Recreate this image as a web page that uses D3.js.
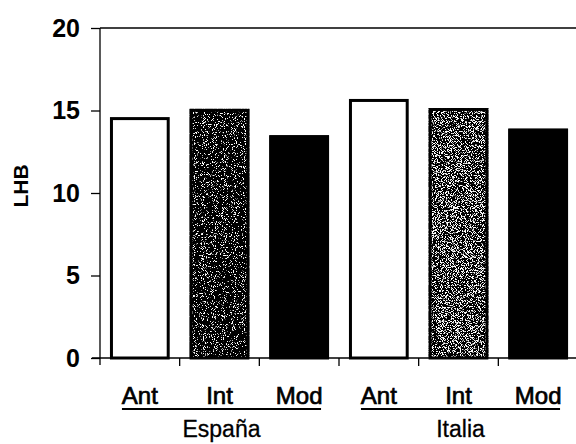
<!DOCTYPE html>
<html>
<head>
<meta charset="utf-8">
<script src="https://cdn.jsdelivr.net/npm/d3@7/dist/d3.min.js"></script>
<style>
  html, body { margin: 0; padding: 0; background: #fff; }
  svg { display: block; }
</style>
</head>
<body>
<script>
// LHB by period style, grouped by country
const countries = ["España", "Italia"];
const periods = ["Ant", "Int", "Mod"];
const espanaValues = [14.6, 15.1, 13.5];
const italiaValues = [15.7, 15.15, 13.9];
const yTicks = [0, 5, 10, 15, 20];
const yLabel = "LHB";

const rows = [];
countries.forEach((c, ci) => {
  const vals = ci === 0 ? espanaValues : italiaValues;
  periods.forEach((p, pi) => rows.push({ key: c + "-" + p, country: c, period: p, value: vals[pi], ci, pi }));
});

const W = 576, H = 444;
const svg = d3.select("body").append("svg").attr("width", W).attr("height", H);

// grain textures: white specks over black, density per fill style
const defs = svg.append("defs");
function grain(id, threshold, seed, freq) {
  const f = defs.append("filter").attr("id", id)
    .attr("x", 0).attr("y", 0).attr("width", "100%").attr("height", "100%");
  f.append("feTurbulence").attr("type", "fractalNoise").attr("baseFrequency", freq)
    .attr("numOctaves", 2).attr("seed", seed).attr("result", "n");
  const k = 14;
  f.append("feColorMatrix").attr("in", "n").attr("type", "matrix")
    .attr("values", `0 0 0 0 1  0 0 0 0 1  0 0 0 0 1  ${k} 0 0 0 ${-k * threshold}`)
    .attr("result", "spots");
  f.append("feComposite").attr("in", "spots").attr("in2", "SourceGraphic").attr("operator", "atop");
}
grain("grainEsInt", 0.6, 4, 1.1);
grain("grainItInt", 0.53, 7, 1.2);
grain("grainMod", 0.74, 2, 1.0);

const x = d3.scaleBand().domain(rows.map(d => d.key)).range([100, 578])
  .paddingInner(0.25).paddingOuter(0.125);
const y = d3.scaleLinear().domain([0, 20]).range([358, 28]);

const fillFor = d => {
  if (d.pi === 0) return { fill: "#fff", filter: null };
  if (d.pi === 1) return { fill: "#000", filter: d.ci === 0 ? "url(#grainEsInt)" : "url(#grainItInt)" };
  return { fill: "#000", filter: "url(#grainMod)" };
};

// bars
const bars = svg.append("g");
rows.forEach(d => {
  const s = fillFor(d);
  const r = bars.append("rect")
    .attr("x", x(d.key)).attr("y", y(d.value))
    .attr("width", x.bandwidth()).attr("height", y(0) - y(d.value))
    .attr("fill", s.fill);
  if (s.filter) r.attr("filter", s.filter);
  bars.append("rect")
    .attr("x", x(d.key) + 1.5).attr("y", y(d.value) + 1.5)
    .attr("width", x.bandwidth() - 3).attr("height", y(0) - y(d.value) - 1.5)
    .attr("fill", "none").attr("stroke", "#000").attr("stroke-width", 3);
});

// frame top line
svg.append("line").attr("x1", 100).attr("x2", 578).attr("y1", y(20)).attr("y2", y(20))
  .attr("stroke", "#000").attr("stroke-width", 1.5);

// y axis
const yAxis = svg.append("g").attr("transform", "translate(100,0)")
  .call(d3.axisLeft(y).tickValues(yTicks).tickSize(9).tickPadding(11).tickFormat(d3.format("d")));
yAxis.select(".domain").attr("d", `M0,${y(20)}V${y(0) + 7}`).attr("stroke-width", 1.3);
yAxis.selectAll(".tick line").attr("stroke-width", 1.3);
yAxis.selectAll("text").attr("font-family", "Liberation Sans, Arial, sans-serif")
  .attr("font-size", 25).attr("font-weight", "bold").attr("fill", "#000");

// x axis: baseline with ticks at category boundaries
const step = x.step();
const boundaries = d3.range(1, rows.length).map(i => 100 + i * step);
const xAxis = svg.append("g");
xAxis.append("line").attr("x1", 92).attr("x2", 578).attr("y1", y(0)).attr("y2", y(0))
  .attr("stroke", "#000").attr("stroke-width", 1.3);
xAxis.selectAll("line.tk").data(boundaries).join("line").attr("class", "tk")
  .attr("x1", d => d).attr("x2", d => d).attr("y1", y(0)).attr("y2", y(0) + 8)
  .attr("stroke", "#000").attr("stroke-width", 1.3);

// period labels
svg.append("g").selectAll("text").data(rows).join("text")
  .attr("x", d => x(d.key) + x.bandwidth() / 2).attr("y", 404)
  .attr("text-anchor", "middle")
  .attr("font-family", "Liberation Sans, Arial, sans-serif").attr("font-size", 24)
  .attr("fill", "#000").attr("stroke", "#000").attr("stroke-width", 0.7)
  .text(d => d.period);

// country group underline + label
countries.forEach((c, ci) => {
  const first = rows.find(r => r.ci === ci && r.pi === 0);
  const last = rows.find(r => r.ci === ci && r.pi === periods.length - 1);
  const x0 = x(first.key) + 12, x1 = x(last.key) + x.bandwidth() - 8;
  svg.append("line").attr("x1", x0).attr("x2", x1).attr("y1", 409).attr("y2", 409)
    .attr("stroke", "#000").attr("stroke-width", 2);
  svg.append("text").attr("x", (x0 + x1) / 2).attr("y", 437).attr("text-anchor", "middle")
    .attr("font-family", "Liberation Sans, Arial, sans-serif").attr("font-size", 23)
    .attr("fill", "#000").attr("stroke", "#000").attr("stroke-width", 0.3).text(c);
});

// y axis title
svg.append("text").attr("transform", "translate(28,186) rotate(-90)")
  .attr("text-anchor", "middle").attr("font-family", "Liberation Sans, Arial, sans-serif")
  .attr("font-size", 21).attr("font-weight", "bold").attr("fill", "#000").text(yLabel);
</script>
</body>
</html>
